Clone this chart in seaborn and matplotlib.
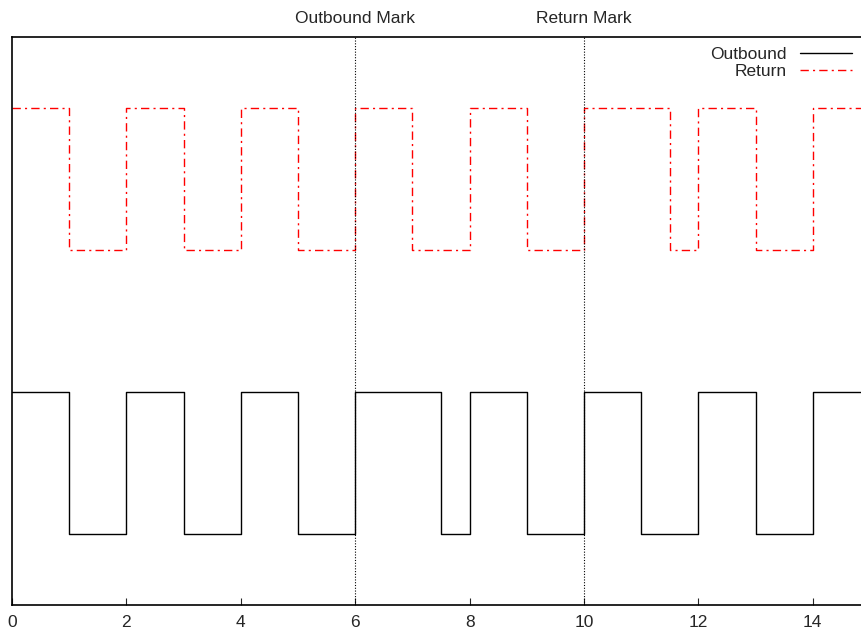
import matplotlib
matplotlib.use("Agg")
import matplotlib.pyplot as plt
import seaborn as sns

# step signals: time where each level starts, last point closes the trace
out_t = [0, 1, 2, 3, 4, 5, 6, 7.5, 8, 9, 10, 11, 12, 13, 14, 15]
out_level = [1, 0, 1, 0, 1, 0, 1, 0, 1, 0, 1, 0, 1, 0, 1, 1]
ret_t = [0, 1, 2, 3, 4, 5, 6, 7, 8, 9, 10, 11.5, 12, 13, 14, 15]
ret_level = [3, 2, 3, 2, 3, 2, 3, 2, 3, 2, 3, 2, 3, 2, 3, 3]
marks = [6, 10]
mark_labels = ["Outbound Mark", "Return Mark"]
xticks = [0, 2, 4, 6, 8, 10, 12, 14]

sns.set_style("ticks")
plt.rcParams["font.family"] = ["Liberation Sans", "DejaVu Sans"]

fig = plt.figure(figsize=(8.62, 6.37), dpi=100)
ax = fig.add_axes([0.0139, 0.0502, 1.0 - 0.0139, 0.942 - 0.0502])

sns.lineplot(x=out_t, y=out_level, ax=ax, drawstyle="steps-post",
             color="black", linewidth=1.0, label="Outbound", estimator=None)
sns.lineplot(x=ret_t, y=ret_level, ax=ax, drawstyle="steps-post",
             color="red", linewidth=1.0, label="Return", estimator=None,
             dashes=False)
ax.lines[1].set_dashes([6, 3, 1.5, 3])

for m, lab in zip(marks, mark_labels):
    ax.axvline(m, color="black", linestyle=(0, (1, 1.5)), linewidth=0.8)
    ax.annotate(lab, xy=(m, 1), xycoords=("data", "axes fraction"),
                xytext=(0, 8), textcoords="offset points",
                ha="center", va="bottom", fontsize=12.5)

ax.set_xlim(0, 14.86)
ax.set_ylim(-0.5, 3.5)
ax.set_xticks(xticks)
ax.set_yticks([])
ax.tick_params(axis="x", direction="in", length=5, width=0.8,
               labelsize=12.5, pad=7)
for s in ["left", "bottom", "top"]:
    ax.spines[s].set_linewidth(1.2)
    ax.spines[s].set_color("black")
ax.spines["right"].set_visible(False)

ax.legend(loc="upper right", frameon=False, markerfirst=False,
          fontsize=12.5, handlelength=3.0, borderaxespad=0.35,
          labelspacing=0.15, handletextpad=0.8, borderpad=0.2)

fig.savefig("out.png", dpi=100)
